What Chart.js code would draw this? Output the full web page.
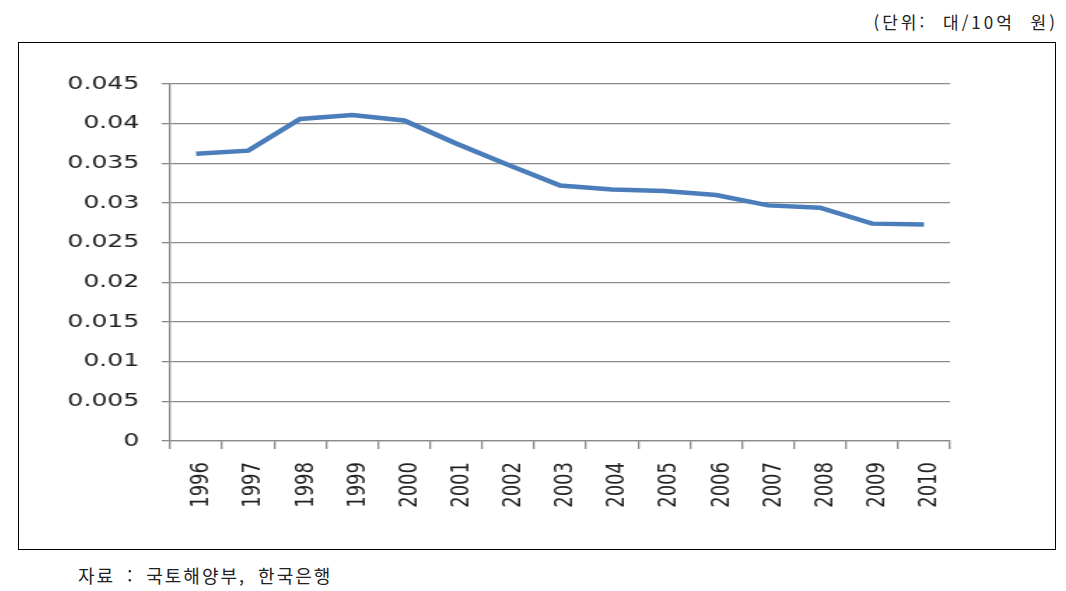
<!DOCTYPE html>
<html lang="ko">
<head>
<meta charset="utf-8">
<script src="https://cdn.jsdelivr.net/npm/chart.js@4/dist/chart.umd.min.js"></script>
<style>
  html, body { margin:0; padding:0; background:#fff; }
  body { width:1066px; height:591px; position:relative; overflow:hidden; }
  .unit { position:absolute; right:8px; top:9px; font:17px "Noto Sans CJK KR", sans-serif; color:#222; letter-spacing:3px; word-spacing:8px; }
  .box { position:absolute; left:18px; top:42px; width:1036px; height:506px; border:1px solid #000; }
  .stretch { position:absolute; left:0; top:0; width:740px; height:506px; transform:scaleX(1.4); transform-origin:0 0; }
  .src { position:absolute; left:78px; top:562px; font:18px "Noto Sans CJK KR", sans-serif; color:#222; letter-spacing:2px; word-spacing:5px; }
</style>
</head>
<body>
<div class="unit">(단위: 대/10억 원)</div>
<div class="box">
  <div class="stretch"><canvas id="chart" width="740" height="506"></canvas></div>
</div>
<div class="src">자료 : 국토해양부, 한국은행</div>

<script>
// ---- Datos
const years = ['1996','1997','1998','1999','2000','2001','2002','2003','2004','2005','2006','2007','2008','2009','2010'];
const ratio = [0.0362,0.0366,0.0406,0.0411,0.0404,0.0375,0.0348,0.0322,0.0317,0.0315,0.0310,0.0297,0.0294,0.0274,0.0273];
const yMin = 0, yMax = 0.045, yStep = 0.005;

const GRID = '#8a8a8a';
const LABEL_FONT = { family: '"DejaVu Sans", Verdana, sans-serif', size: 18 };

// el lienzo se estira 1.4x en horizontal (como la imagen original)
new Chart(document.getElementById('chart'), {
  type: 'line',
  data: {
    labels: years,
    datasets: [{
      data: ratio,
      borderColor: '#4a7dba',
      borderWidth: 4.5,
      pointRadius: 0,
      tension: 0,
      fill: false
    }]
  },
  options: {
    responsive: false,
    animation: false,
    layout: { padding: { left: 0, top: 41, right: 75, bottom: 0 } },
    plugins: { legend: { display: false }, tooltip: { enabled: false } },
    scales: {
      x: {
        offset: true,
        grid: { display: true, drawOnChartArea: false, offset: true, tickLength: 8, color: GRID, lineWidth: 1.3 },
        border: { display: true, color: GRID, width: 1.3 },
        ticks: { minRotation: 90, maxRotation: 90, padding: 13, labelOffset: 4, color: '#222', font: LABEL_FONT, autoSkip: false },
        afterFit: s => { s.height = 108; }
      },
      y: {
        min: yMin, max: yMax,
        grid: { color: GRID, lineWidth: 1.3, tickLength: 6 },
        border: { display: true, color: GRID, width: 1.3 },
        ticks: {
          stepSize: yStep, padding: 16, color: '#222', font: LABEL_FONT,
          callback: v => String(Number(v.toFixed(3)))
        },
        afterFit: s => { s.width = 108; }
      }
    }
  }
});
</script>
</body>
</html>
